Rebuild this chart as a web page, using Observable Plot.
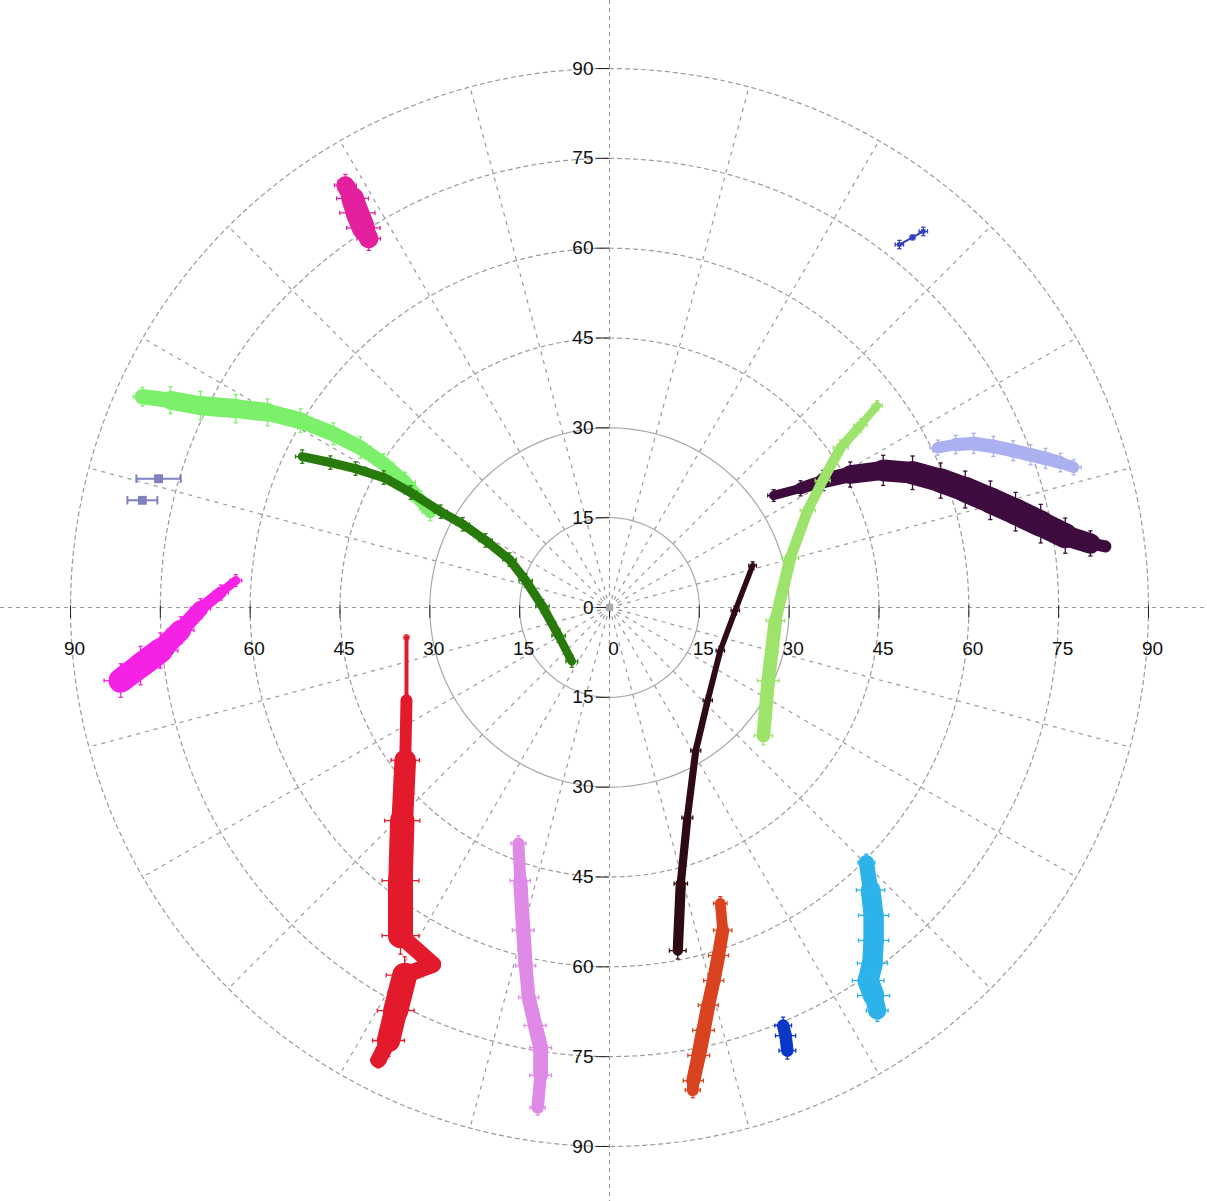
<!DOCTYPE html>
<html><head><meta charset="utf-8">
<script src="https://cdn.jsdelivr.net/npm/d3@7"></script>
<script src="https://cdn.jsdelivr.net/npm/@observablehq/plot@0.6"></script>
<style>html,body{margin:0;padding:0;background:#fff;} #chart svg{display:block;}</style>
</head><body><div id="chart"></div>
<script>
// ---- tick labels / grid values ----
const axisTicks = [-90,-75,-60,-45,-30,-15,0,15,30,45,60,75,90];
const rings = [15,30,45,60,75,90];

// ---- track values (east / north offsets in degrees, with error in degrees) ----
const darkGreenX = [-51.3,-46.6,-42.4,-37.7,-33.2,-28.2,-24.5,-20.7,-16.7,-14.0,-11.2,-8.5,-6.3];
const darkGreenY = [25.2,24.2,23.2,21.7,19.2,16.0,13.9,11.2,8.0,4.5,0.2,-4.7,-9.0];
const darkGreenE = [0.8,0.8,0.8,0.8,0.8,0.8,0.8,0.8,0.8,0.8,0.8,0.8,0.7];

const lightGreenX = [-78.0,-73.3,-68.3,-62.4,-57.1,-51.6,-46.1,-41.6,-37.7,-34.1,-31.6,-29.9];
const lightGreenY = [35.2,34.6,33.7,33.2,32.6,31.2,29.0,26.7,24.0,20.9,17.9,15.9];
const lightGreenE = [1.1,1.6,1.7,1.7,1.6,1.4,1.3,1.3,1.2,1.2,1.1,1.0];

const pinkX = [-44.1,-42.9,-42.1,-41.1,-40.2];
const pinkY = [70.5,68.3,65.9,63.4,61.6];
const pinkE = [1.3,1.9,2.1,2.0,1.4];

const blueTopX = [48.4,50.6,52.4];
const blueTopY = [60.6,61.8,62.8];
const blueTopE = [0.5,0.3,0.5];

const slateX = [-75.3,-78.0];
const slateY = [21.5,17.9];
const slateE = [3.7,2.5];

const magentaX = [-81.6,-78.3,-75.0,-71.6,-68.3,-64.9,-62.4];
const magentaY = [-12.2,-9.7,-7.2,-3.8,-0.2,2.5,4.5];
const magentaE = [2.0,2.3,2.1,1.6,1.2,0.9,0.7];

const redX = [-33.9,-33.9,-34.1,-34.6,-34.9,-34.9,-29.5,-34.2,-35.7,-36.9,-38.6];
const redY = [-5.0,-15.5,-25.5,-35.6,-45.6,-54.8,-59.6,-61.4,-67.3,-72.3,-75.6];
const redE = [0.3,0.4,1.7,2.1,2.2,2.2,0.7,2.2,2.2,1.9,0.9];

const orchidX = [-15.2,-14.9,-14.4,-14.0,-13.5,-12.4,-11.5,-11.5,-12.0];
const orchidY = [-39.4,-45.6,-53.9,-59.8,-65.1,-69.8,-73.5,-78.1,-83.5];
const orchidE = [0.9,1.2,1.3,1.2,1.2,1.3,1.3,1.3,0.9];

const maroonX = [23.9,21.0,18.5,16.4,14.4,13.0,11.9,11.4];
const maroonY = [7.0,-0.5,-7.2,-15.5,-23.9,-35.1,-46.1,-57.3];
const maroonE = [0.45,0.5,0.5,0.55,0.6,0.65,0.8,1.0];

const darkPurpleX = [27.4,31.9,35.7,40.2,45.7,50.6,55.3,59.4,63.6,67.8,72.0,76.1,80.3,82.8];
const darkPurpleY = [18.7,19.9,21.2,22.2,22.9,22.5,21.2,19.7,17.9,16.0,14.0,12.0,10.7,10.2];
const darkPurpleE = [0.7,0.9,1.2,1.5,1.8,2.0,2.1,2.2,2.3,2.3,2.3,2.1,1.5,0.6];

const yellowGreenX = [44.7,41.9,38.6,35.6,33.1,30.2,27.7,26.5,25.7];
const yellowGreenY = [33.7,30.4,26.7,21.2,16.2,8.3,-2.2,-12.2,-21.4];
const yellowGreenE = [0.6,0.8,0.9,0.9,0.9,1.0,1.1,1.3,1.1];

const lavenderX = [54.8,57.8,60.8,64.1,67.4,70.3,72.8,75.3,77.5];
const lavenderY = [26.7,27.2,27.4,26.9,26.2,25.5,24.9,24.2,23.4];
const lavenderE = [0.9,1.1,1.2,1.2,1.2,1.2,1.2,1.1,0.9];

const orangeX = [18.5,18.9,18.2,17.4,16.5,15.7,14.9,14.0,13.9];
const orangeY = [-49.4,-53.9,-58.1,-62.3,-66.4,-70.6,-74.8,-79.0,-80.6];
const orangeE = [0.8,1.1,1.2,1.2,1.2,1.3,1.3,1.2,0.9];

const skyBlueX = [42.9,43.6,44.1,44.1,43.9,43.2,44.1,44.7];
const skyBlueY = [-42.6,-47.2,-51.4,-55.6,-59.4,-62.3,-64.8,-67.3];
const skyBlueE = [1.0,1.7,1.8,1.8,1.8,1.9,1.9,1.3];

const blueBottomX = [29.0,29.4,29.7];
const blueBottomY = [-69.8,-71.5,-74.0];
const blueBottomE = [1.0,1.2,1.0];

// ---- drawing ----
const W = 1207, H = 1201, CX = 609, CY = 607, PPD = 539 / 90;

const tracks = [
  {x: lightGreenX, y: lightGreenY, e: lightGreenE, color: "#7cef6b"},
  {x: darkGreenX, y: darkGreenY, e: darkGreenE, color: "#277a0b"},
  {x: pinkX, y: pinkY, e: pinkE, color: "#e3209d"},
  {x: blueTopX, y: blueTopY, e: blueTopE, color: "#2f3fc0", thin: true},
  {x: magentaX, y: magentaY, e: magentaE, color: "#f522e6"},
  {x: redX, y: redY, e: redE, color: "#e3192c"},
  {x: orchidX, y: orchidY, e: orchidE, color: "#de8ae6"},
  {x: maroonX, y: maroonY, e: maroonE, color: "#2e0a13"},
  {x: darkPurpleX, y: darkPurpleY, e: darkPurpleE, color: "#3e0b3f"},
  {x: yellowGreenX, y: yellowGreenY, e: yellowGreenE, color: "#9de36c"},
  {x: lavenderX, y: lavenderY, e: lavenderE, color: "#aab0f0"},
  {x: orangeX, y: orangeY, e: orangeE, color: "#d9431f"},
  {x: skyBlueX, y: skyBlueY, e: skyBlueE, color: "#2db3ea"},
  {x: blueBottomX, y: blueBottomY, e: blueBottomE, color: "#0a37c7"}
];

const BAND = 1.9, K = 1.4, CAP = 0.35;
const segs = [], pts = [];
tracks.forEach((t, ti) => {
  t.x.forEach((x, i) => {
    pts.push({x, y: t.y[i], e: t.e[i], color: t.color, thin: !!t.thin, ti});
    if (i < t.x.length - 1) {
      segs.push({x1: x, y1: t.y[i], x2: t.x[i+1], y2: t.y[i+1],
        w: t.thin ? 2 : (t.e[i] + t.e[i+1]) / 2 * BAND * PPD, color: t.color, ti});
    }
  });
});
const slatePts = slateX.map((x, i) => ({x, y: slateY[i], e: slateE[i], color: "#7e80c0"}));

const circ = rings.flatMap(r => d3.range(0, 361, 2).map(a => ({r, x: r*Math.sin(a*Math.PI/180), y: r*Math.cos(a*Math.PI/180)})));
const spokes = d3.range(0, 360, 15).filter(a => a % 90).map(a => ({x: 90*Math.sin(a*Math.PI/180), y: 90*Math.cos(a*Math.PI/180)}));

const bar = {stroke: "color", strokeWidth: 1.3};

// draw each track (band + error bars) in order so later tracks sit on top
const trackMarks = tracks.flatMap((t, ti) => {
  const s = segs.filter(d => d.ti === ti), p = pts.filter(d => d.ti === ti);
  return [
    Plot.link(s, {x1: "x1", y1: "y1", x2: "x2", y2: "y2", stroke: "color", strokeWidth: "w", strokeLinecap: "round"}),
    Plot.link(p, {x1: d => d.x - K*d.e, x2: d => d.x + K*d.e, y1: "y", y2: "y", ...bar}),
    Plot.link(p, {y1: d => d.y - K*d.e, y2: d => d.y + K*d.e, x1: "x", x2: "x", ...bar}),
    Plot.link(p, {x1: d => d.x - K*d.e, x2: d => d.x - K*d.e, y1: d => d.y - CAP, y2: d => d.y + CAP, ...bar}),
    Plot.link(p, {x1: d => d.x + K*d.e, x2: d => d.x + K*d.e, y1: d => d.y - CAP, y2: d => d.y + CAP, ...bar}),
    Plot.link(p, {y1: d => d.y - K*d.e, y2: d => d.y - K*d.e, x1: d => d.x - CAP, x2: d => d.x + CAP, ...bar}),
    Plot.link(p, {y1: d => d.y + K*d.e, y2: d => d.y + K*d.e, x1: d => d.x - CAP, x2: d => d.x + CAP, ...bar})
  ];
});

const chart = Plot.plot({
  width: W, height: H, margin: 0,
  x: {domain: [-CX / PPD, (W - CX) / PPD], axis: null},
  y: {domain: [(CY - H) / PPD, CY / PPD], axis: null},
  color: {type: "identity"},
  style: {fontFamily: "Liberation Sans, Arial, sans-serif", background: "#fff"},
  marks: [
    Plot.line(circ.filter(d => d.r <= 30), {x: "x", y: "y", z: "r", stroke: "#a8a8a8", strokeWidth: 1.2}),
    Plot.line(circ.filter(d => d.r > 30), {x: "x", y: "y", z: "r", stroke: "#9a9a9a", strokeWidth: 1.2, strokeDasharray: "4,4"}),
    Plot.link(spokes, {x1: 0, y1: 0, x2: "x", y2: "y", stroke: "#9a9a9a", strokeWidth: 1.2, strokeDasharray: "4,5"}),
    Plot.ruleX([0], {stroke: "#9a9a9a", strokeWidth: 1.2, strokeDasharray: "4,4"}),
    Plot.ruleY([0], {stroke: "#9a9a9a", strokeWidth: 1.2, strokeDasharray: "4,4"}),
    Plot.ruleX(axisTicks, {x: d => d, y1: 0.3, y2: -1.8, stroke: "#222"}),
    Plot.ruleY(axisTicks, {y: d => d, x1: -2.2, x2: 0, stroke: "#222"}),
    Plot.text(axisTicks, {x: d => d, y: 0, dy: 41, dx: 4, text: d => String(Math.abs(d)), fontSize: 19, fill: "#111"}),
    Plot.text(axisTicks, {x: 0, y: d => d, dx: -16, textAnchor: "end", text: d => String(Math.abs(d)), fontSize: 19, fill: "#111"}),
    Plot.dot([0], {x: 0, y: 0, symbol: "square", r: 4, fill: "#aaaaaa"}),
    ...trackMarks,
    // isolated slate points with horizontal error bars
    Plot.link(slatePts, {x1: d => d.x - d.e, x2: d => d.x + d.e, y1: "y", y2: "y", stroke: "color", strokeWidth: 2}),
    Plot.link(slatePts, {x1: d => d.x - d.e, x2: d => d.x - d.e, y1: d => d.y - 0.7, y2: d => d.y + 0.7, stroke: "color", strokeWidth: 2}),
    Plot.link(slatePts, {x1: d => d.x + d.e, x2: d => d.x + d.e, y1: d => d.y - 0.7, y2: d => d.y + 0.7, stroke: "color", strokeWidth: 2}),
    Plot.dot(slatePts, {x: "x", y: "y", symbol: "square", r: 5, fill: "color"}),
    Plot.dot(pts.filter(d => d.thin), {x: "x", y: "y", symbol: "square", r: 2.5, fill: "color"})
  ]
});
document.getElementById("chart").append(chart);
</script>
</body></html>
